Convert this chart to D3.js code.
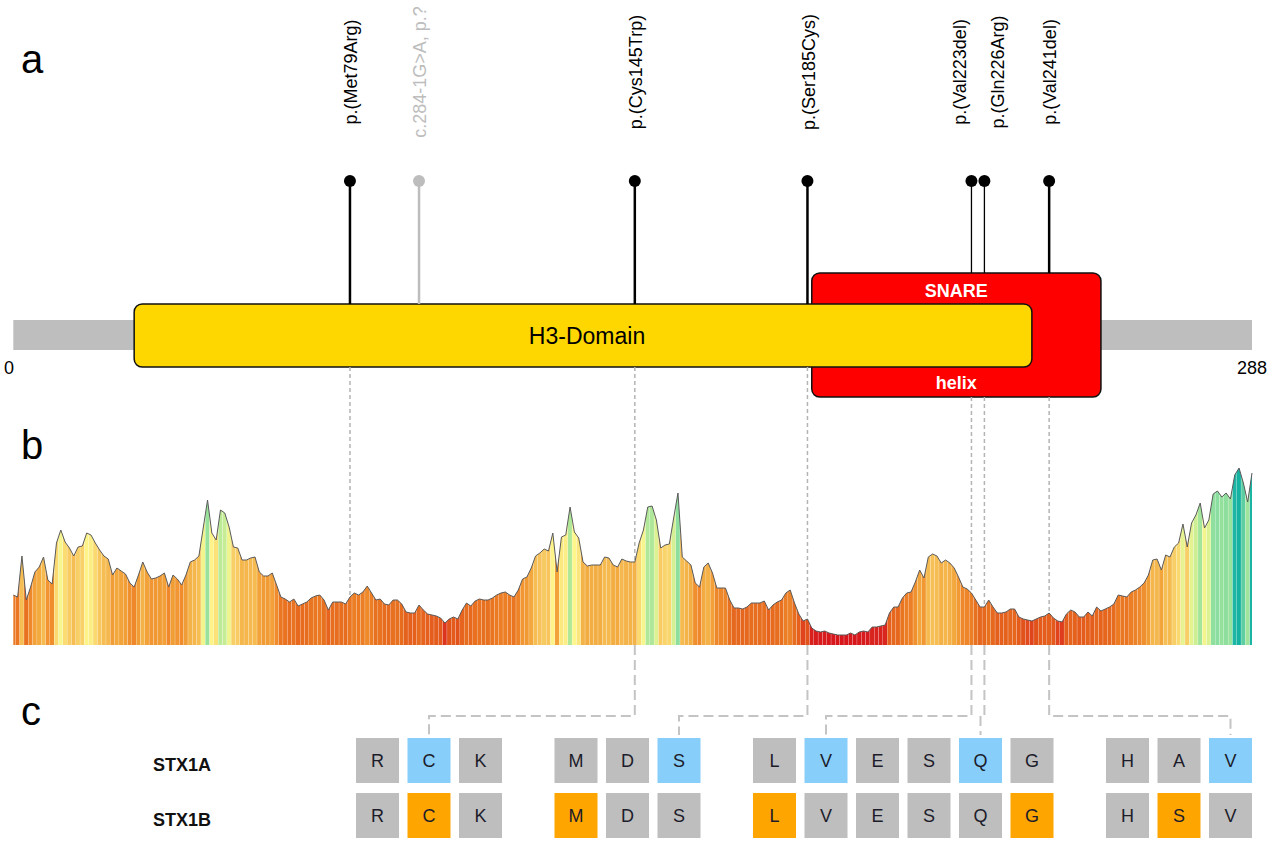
<!DOCTYPE html>
<html>
<head>
<meta charset="utf-8">
<script src="https://cdn.jsdelivr.net/npm/d3@7"></script>
<style>
  body { margin: 0; background: #fff; }
  text { font-family: Arial, "Liberation Sans", sans-serif; }
</style>
</head>
<body>
<svg id="chart" width="1280" height="845"></svg>
<script>
// protein + domains
const proteinLength = 288;
const domainNames = ["SNARE", "H3-Domain"];
const domainStart = [186, 29];
const domainEnd = [253, 237];

// variants
const variantLabels = ["p.(Met79Arg)", "c.284-1G>A, p.?", "p.(Cys145Trp)", "p.(Ser185Cys)",
                       "p.(Val223del)", "p.(Gln226Arg)", "p.(Val241del)"];
const variantPos = [79, 95, 145, 185, 223, 226, 241];
const variantKind = ["missense", "splice", "missense", "missense", "deletion", "missense", "deletion"];

// tolerance profile, one value per residue (1..288)
const profile = [
  0.50,0.48,0.89,0.45,0.58,0.73,0.78,0.88,0.65,0.61,
  1.02,1.15,1.03,0.97,0.89,0.98,0.99,1.12,1.10,1.02,
  0.95,0.89,0.86,0.70,0.77,0.74,0.71,0.62,0.58,0.70,
  0.83,0.73,0.66,0.67,0.69,0.72,0.58,0.70,0.66,0.60,
  0.70,0.83,0.85,0.89,1.17,1.45,1.12,1.05,1.35,1.32,
  1.18,0.98,0.97,0.85,0.85,0.87,0.88,0.73,0.69,0.69,
  0.72,0.60,0.48,0.46,0.43,0.46,0.39,0.41,0.43,0.47,
  0.49,0.50,0.45,0.35,0.43,0.43,0.43,0.41,0.48,0.52,
  0.50,0.53,0.59,0.52,0.45,0.46,0.41,0.40,0.45,0.45,
  0.41,0.33,0.32,0.32,0.40,0.35,0.31,0.30,0.29,0.27,
  0.22,0.26,0.28,0.26,0.35,0.42,0.39,0.44,0.46,0.45,
  0.45,0.47,0.50,0.52,0.53,0.50,0.48,0.55,0.66,0.68,
  0.77,0.89,0.92,0.96,0.94,1.12,0.73,1.08,1.10,1.38,
  1.13,1.07,0.83,0.79,0.80,0.80,0.80,0.88,0.87,0.80,
  0.78,0.86,0.84,0.83,0.83,1.02,1.15,1.38,1.39,1.25,
  0.97,1.00,1.01,1.27,1.52,0.88,0.84,0.80,0.62,0.58,
  0.78,0.82,0.72,0.57,0.57,0.57,0.45,0.37,0.37,0.36,
  0.38,0.42,0.42,0.42,0.44,0.35,0.40,0.43,0.45,0.52,
  0.55,0.42,0.31,0.24,0.26,0.17,0.14,0.13,0.14,0.12,
  0.11,0.10,0.10,0.10,0.12,0.10,0.13,0.14,0.13,0.18,
  0.18,0.19,0.20,0.32,0.38,0.38,0.47,0.52,0.53,0.63,
  0.75,0.67,0.88,0.91,0.89,0.82,0.85,0.82,0.77,0.68,
  0.58,0.56,0.52,0.45,0.38,0.38,0.45,0.38,0.32,0.32,
  0.33,0.36,0.36,0.28,0.26,0.25,0.24,0.26,0.28,0.29,
  0.32,0.27,0.24,0.23,0.31,0.35,0.33,0.28,0.28,0.33,
  0.29,0.38,0.34,0.36,0.38,0.41,0.50,0.49,0.48,0.53,
  0.55,0.58,0.62,0.70,0.85,0.86,0.75,0.90,0.88,0.98,
  1.02,1.21,0.98,1.22,1.30,1.42,1.17,1.25,1.51,1.54,
  1.48,1.52,1.46,1.70,1.77,1.62,1.43,1.72
];
const colorStops = [0.12, 0.2, 0.27, 0.45, 0.6, 0.75, 0.95, 1.13, 1.3, 1.45, 1.58, 1.68, 1.8];
const colorRange = ["#d7191c", "#d9261e", "#e45a1c", "#e8711f", "#f08c2c", "#f2a53a", "#f7c75e",
                    "#fdf68c", "#cdef94", "#99e29c", "#84dca0", "#1fb8a6", "#12ae9f"];

// sequence comparison (residue groups around the variants)
const seqNames = ["STX1A", "STX1B"];
const seqGroupStart = [144, 183, 222, 239];
const seqA = ["RCK", "MDS", "LVESQG", "HAV"];
const seqB = ["RCK", "MDS", "LVESQG", "HSV"];
const markA = [145, 185, 223, 226, 241];
const markB = [145, 183, 222, 227, 240];

const svg = d3.select('#chart');

const x = d3.scaleLinear().domain([0, proteinLength]).range([9, 1252]);
const y = d3.scaleLinear().domain([0, 1.85]).range([645, 460]);
const color = d3.scaleLinear().domain(colorStops).range(colorRange);

// panel letters
svg.selectAll('.panel')
  .data([['a', 73], ['b', 459], ['c', 725]])
  .enter().append('text')
  .attr('x', 21).attr('y', d => d[1])
  .attr('font-size', 40)
  .text(d => d[0]);

// ---------- a : protein ----------
const boxes = [
  { top: 273, h: 124, fill: '#ff0000' },   // SNARE
  { top: 304, h: 63, fill: '#ffd700' }     // H3
];

svg.append('rect')
  .attr('x', x(1)).attr('width', x(proteinLength) - x(1))
  .attr('y', 320).attr('height', 30)
  .attr('fill', '#bebebe');

domainNames.forEach(function(name, i){
  svg.append('rect')
    .attr('x', x(domainStart[i])).attr('y', boxes[i].top)
    .attr('width', x(domainEnd[i]) - x(domainStart[i])).attr('height', boxes[i].h)
    .attr('rx', 8).attr('ry', 8)
    .attr('fill', boxes[i].fill)
    .attr('stroke', '#111').attr('stroke-width', 1.5);
});

// SNARE labels (split above/below the H3 box)
var snareMid = (x(domainStart[0]) + x(domainEnd[0])) / 2;
svg.append('text').attr('x', snareMid).attr('y', 291).attr('dy', '0.35em')
  .attr('text-anchor', 'middle').attr('fill', '#fff').attr('font-weight', 'bold').attr('font-size', 18)
  .text(domainNames[0]);
svg.append('text').attr('x', snareMid).attr('y', 383).attr('dy', '0.35em')
  .attr('text-anchor', 'middle').attr('fill', '#fff').attr('font-weight', 'bold').attr('font-size', 18)
  .text('helix');
svg.append('text')
  .attr('x', (x(domainStart[1]) + x(domainEnd[1])) / 2 + 4).attr('y', 336).attr('dy', '0.35em')
  .attr('text-anchor', 'middle').attr('font-size', 23)
  .text(domainNames[1]);

// axis ends
svg.selectAll('.end')
  .data([0, proteinLength])
  .enter().append('text')
  .attr('x', d => x(d)).attr('y', 374)
  .attr('text-anchor', 'middle').attr('font-size', 18)
  .text(d => d);

// which box a residue sits on
function boxOf(pos){
  if (pos >= domainStart[0] && pos <= domainEnd[0]) return boxes[0];
  if (pos >= domainStart[1] && pos <= domainEnd[1]) return boxes[1];
  return { top: 320, h: 30 };
}

const variants = variantPos.map(function(p, i){
  return { pos: p, label: variantLabels[i], kind: variantKind[i] };
});

// spread labels that would overlap
var lx = variants.map(d => x(d.pos));
const minGap = 38;
for (let it = 0; it < 60; it++) {
  for (let i = 1; i < lx.length; i++) {
    const d = lx[i] - lx[i-1];
    if (d < minGap) { const s = (minGap - d) / 2; lx[i-1] -= s; lx[i] += s; }
  }
}

const lolli = svg.selectAll('.lolli')
  .data(variants)
  .enter().append('g')
  .attr('class', 'lolli');

lolli.append('line')
  .attr('x1', d => x(d.pos)).attr('x2', d => x(d.pos))
  .attr('y1', 181).attr('y2', d => boxOf(d.pos).top)
  .attr('stroke', d => d.kind == 'splice' ? '#bdbdbd' : '#000')
  .attr('stroke-width', function(d, i){
    // crowded stems are drawn thinner
    var close = variants.some((o, j) => j != i && Math.abs(o.pos - d.pos) < 5);
    return close ? 1.3 : 2.5;
  });

lolli.append('circle')
  .attr('cx', d => x(d.pos)).attr('cy', 181).attr('r', 6)
  .attr('fill', d => d.kind == 'splice' ? '#bdbdbd' : '#000');

lolli.append('text')
  .attr('transform', (d, i) => 'translate(' + (lx[i] + 1) + ',72) rotate(-90)')
  .attr('text-anchor', 'middle').attr('dy', '0.35em')
  .attr('font-size', 18)
  .attr('fill', d => d.kind == 'splice' ? '#bdbdbd' : '#000')
  .text(d => d.label);

// ---------- b : tolerance landscape ----------
const area = d3.area()
  .x((d, i) => x(i + 1))
  .y0(y(0))
  .y1(d => y(d));
const line = d3.line()
  .x((d, i) => x(i + 1))
  .y(d => y(d));

// dashed guides from the protein down to the landscape
variants.filter(d => d.kind != 'splice').forEach(function(d){
  var b = boxOf(d.pos);
  svg.append('line')
    .attr('x1', x(d.pos)).attr('x2', x(d.pos))
    .attr('y1', b.top + b.h).attr('y2', y(profile[d.pos - 1]))
    .attr('stroke', '#b4b4b4').attr('stroke-width', 1.5)
    .attr('stroke-dasharray', '4,3');
});

svg.append('clipPath').attr('id', 'areaClip')
  .append('path').attr('d', area(profile));

// one stripe per residue, thin light seams between them
svg.append('g').attr('clip-path', 'url(#areaClip)')
  .selectAll('rect')
  .data(profile)
  .enter().append('rect')
  .attr('x', (d, i) => x(i + 0.5))
  .attr('width', x(1.5) - x(0.5) - 0.3)
  .attr('y', 455).attr('height', 195)
  .attr('fill', d => color(d));

svg.append('path')
  .attr('d', line(profile))
  .attr('fill', 'none')
  .attr('stroke', '#5a5a5a').attr('stroke-width', 1);

// ---------- c : STX1A / STX1B ----------
const boxW = 43, boxH = 45, pitch = 51.5, groupGap = 44;
const rowTop = [738, 793];

var cells = [];
var k = 0;
seqA.forEach(function(g, gi){
  for (let j = 0; j < g.length; j++) {
    const res = seqGroupStart[gi] + j;
    cells.push({ res: res, x: 356 + k * pitch + gi * groupGap, a: g[j], b: seqB[gi][j] });
    k++;
  }
});
function cellOf(res){ return cells.find(c => c.res == res); }

// connectors from the landscape to the residues
variants.filter(d => cellOf(d.pos) && markA.indexOf(d.pos) >= 0).forEach(function(d){
  var c = cellOf(d.pos);
  var vx = x(d.pos), bx = c.x + boxW / 2;
  svg.append('path')
    .attr('d', 'M' + vx + ',' + y(0) + 'V716H' + bx + 'V' + (rowTop[0] - 3))
    .attr('fill', 'none')
    .attr('stroke', '#c4c4c4').attr('stroke-width', 2)
    .attr('stroke-dasharray', '10,5');
});

svg.selectAll('.rowname')
  .data(seqNames)
  .enter().append('text')
  .attr('x', 153).attr('y', (d, i) => rowTop[i] + 33)
  .attr('font-size', 18).attr('font-weight', 'bold')
  .attr('fill', '#111')
  .text(d => d);

[0, 1].forEach(function(r){
  const marks = r == 0 ? markA : markB;
  const hi = r == 0 ? '#87cefa' : '#ffa500';
  const g = svg.append('g').selectAll('g')
    .data(cells)
    .enter().append('g');
  g.append('rect')
    .attr('x', d => d.x).attr('y', rowTop[r])
    .attr('width', boxW).attr('height', boxH)
    .attr('fill', d => marks.indexOf(d.res) >= 0 ? hi : '#bebebe');
  g.append('text')
    .attr('x', d => d.x + boxW / 2).attr('y', rowTop[r] + boxH / 2)
    .attr('dy', '0.35em').attr('text-anchor', 'middle')
    .attr('font-size', 18).attr('fill', '#1c1c2a')
    .text(d => r == 0 ? d.a : d.b);
});
</script>
</body>
</html>
